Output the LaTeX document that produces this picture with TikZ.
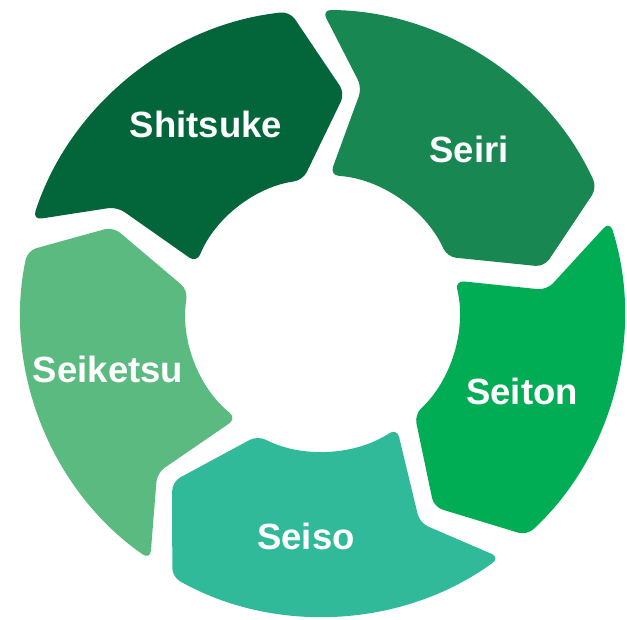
\documentclass[tikz,border=0pt]{standalone}
\usepackage{fontspec}
\setmainfont{Liberation Sans}
\definecolor{cShitsuke}{HTML}{03663A}
\definecolor{cSeiri}{HTML}{198751}
\definecolor{cSeiton}{HTML}{00AD54}
\definecolor{cSeiso}{HTML}{30BA99}
\definecolor{cSeiketsu}{HTML}{5BBA80}
\begin{document}
\begin{tikzpicture}[x=1pt,y=1pt,
  seg/.style={rounded corners=9pt},
  lbl/.style={text=white,font=\fontsize{36.5}{40}\selectfont\bfseries,inner sep=0pt}]
\useasboundingbox (0,0) rectangle (627,620);
\begin{scope}[shift={(321,307)}]
% Seiri
\fill[seg,cSeiri] (89.8:303) arc[start angle=89.8,end angle=24.4,radius=303]
  -- (11.7:228) -- (24:138) arc[start angle=24,end angle=86.3,radius=138]
  -- (79.7:229) -- cycle;
% Seiton
\fill[seg,cSeiton] (17.6:303) arc[start angle=17.6,end angle=-47.2,radius=303]
  -- (-59.8:224.5) -- (-47.3:138) arc[start angle=-47.3,end angle=13.6,radius=138]
  -- (5.8:227) -- cycle;
% Seiso
\fill[seg,cSeiso] (-53.8:303) arc[start angle=-53.8,end angle=-119.4,radius=303]
  -- (-131.4:225) -- (-117.3:138) arc[start angle=-117.3,end angle=-56.6,radius=138]
  -- (-64.8:232) -- cycle;
% Seiketsu
\fill[seg,cSeiketsu] (-124.7:300) arc[start angle=-124.7,end angle=-192,radius=300]
  -- (157.5:225) -- (170.3:135) arc[start angle=170.3,end angle=231.3,radius=135]
  -- (224.3:229) -- cycle;
% Shitsuke
\fill[seg,cShitsuke] (162.1:303) arc[start angle=162.1,end angle=95.9,radius=303]
  -- (83.8:221) -- (97.8:134) arc[start angle=97.8,end angle=158,radius=134]
  -- (152.5:230) -- cycle;
\end{scope}
\node[lbl] (shitsuke) at (206,496) {Shitsuke};
\node[lbl] (seiri) at (469,471) {Seiri};
\node[lbl] (seiton) at (522,229) {Seiton};
\node[lbl] (seiso) at (306,84) {Seiso};
\node[lbl] (seiketsu) at (108,251) {Seiketsu};
\end{tikzpicture}
\end{document}
